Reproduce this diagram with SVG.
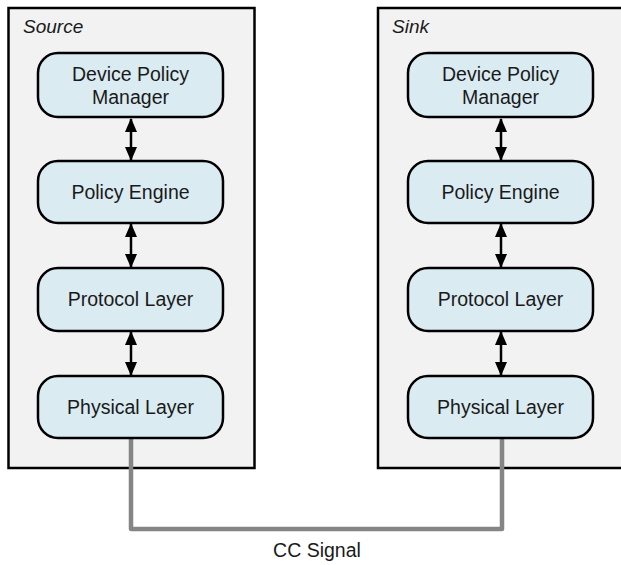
<svg xmlns="http://www.w3.org/2000/svg" width="621" height="565" viewBox="0 0 621 565">
  <defs>
    <style>
      .frame { fill: #f2f2f2; stroke: #000; stroke-width: 2.5; }
      .node { fill: #dbebf2; stroke: #000; stroke-width: 2.5; }
      .lbl { font-family: "Liberation Sans", Arial, sans-serif; font-size: 19.5px; fill: #1a1a1a; text-anchor: middle; }
      .title { font-family: "Liberation Sans", Arial, sans-serif; font-size: 19px; font-style: italic; fill: #1a1a1a; }
      .arrow { stroke: #000; stroke-width: 2.5; fill: none; marker-start: url(#ah); marker-end: url(#ah); }
      .wire { stroke: #858585; stroke-width: 4.5; fill: none; stroke-linejoin: round; }
    </style>
    <marker id="ah" viewBox="0 0 14 12" refX="13" refY="6" markerWidth="14" markerHeight="12" markerUnits="userSpaceOnUse" orient="auto-start-reverse">
      <path d="M0,0 L14,6 L0,12 Z" fill="#000"/>
    </marker>
  </defs>

  <g id="source">
    <rect class="frame" x="8.5" y="8" width="246" height="460"/>
    <text class="title" x="23" y="33">Source</text>
  </g>
  <g id="sink">
    <rect class="frame" x="378" y="8" width="246" height="460"/>
    <text class="title" x="392" y="33">Sink</text>
  </g>

  <g id="connectors">
    <path class="wire" d="M131,439 V529 H502 V439"/>
    <line class="arrow" x1="131" y1="119" x2="131" y2="160"/>
    <line class="arrow" x1="131" y1="224" x2="131" y2="267"/>
    <line class="arrow" x1="131" y1="332" x2="131" y2="375"/>
    <line class="arrow" x1="501" y1="119" x2="501" y2="160"/>
    <line class="arrow" x1="501" y1="224" x2="501" y2="267"/>
    <line class="arrow" x1="501" y1="332" x2="501" y2="375"/>
  </g>

  <g id="src-dpm">
    <rect class="node" x="38" y="53" width="185" height="64" rx="20"/>
    <text class="lbl" x="130.5" y="81">Device Policy</text>
    <text class="lbl" x="130.5" y="104">Manager</text>
  </g>
  <g id="src-pe">
    <rect class="node" x="38" y="161" width="185" height="62" rx="20"/>
    <text class="lbl" x="130.5" y="199">Policy Engine</text>
  </g>
  <g id="src-pl">
    <rect class="node" x="38" y="268" width="185" height="63" rx="20"/>
    <text class="lbl" x="130.5" y="306">Protocol Layer</text>
  </g>
  <g id="src-phy">
    <rect class="node" x="38" y="376" width="185" height="62" rx="20"/>
    <text class="lbl" x="130.5" y="414">Physical Layer</text>
  </g>

  <g id="snk-dpm">
    <rect class="node" x="408" y="53" width="185" height="64" rx="20"/>
    <text class="lbl" x="500.5" y="81">Device Policy</text>
    <text class="lbl" x="500.5" y="104">Manager</text>
  </g>
  <g id="snk-pe">
    <rect class="node" x="408" y="161" width="185" height="62" rx="20"/>
    <text class="lbl" x="500.5" y="199">Policy Engine</text>
  </g>
  <g id="snk-pl">
    <rect class="node" x="408" y="268" width="185" height="63" rx="20"/>
    <text class="lbl" x="500.5" y="306">Protocol Layer</text>
  </g>
  <g id="snk-phy">
    <rect class="node" x="408" y="376" width="185" height="62" rx="20"/>
    <text class="lbl" x="500.5" y="414">Physical Layer</text>
  </g>

  <text id="cc-label" class="lbl" x="317" y="557">CC Signal</text>
</svg>
